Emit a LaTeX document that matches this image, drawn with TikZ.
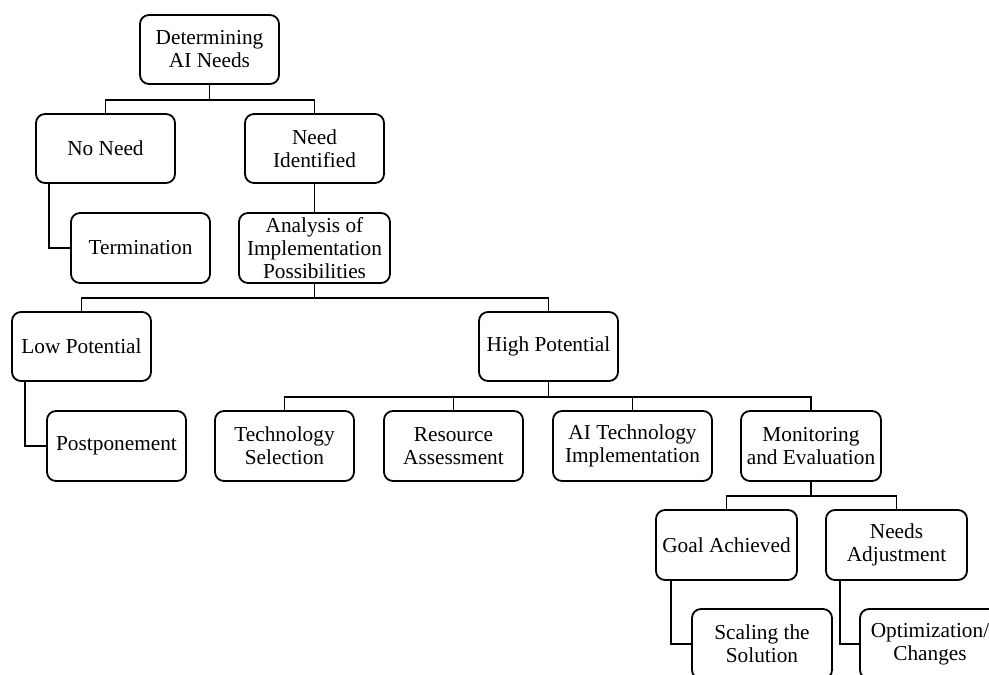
\documentclass[tikz,border=0pt]{standalone}
\usepackage{fontspec}
\setmainfont{Liberation Serif}
\begin{document}
\begin{tikzpicture}[x=1pt,y=-1pt,
  box/.style={draw, line width=1.8pt, rounded corners=9pt, align=center,
    minimum width=139pt, minimum height=69pt, inner sep=1pt,
    font=\fontsize{21.3}{23}\selectfont},
  link/.style={line width=1.6pt}]
\clip (0,0) rectangle (989,675);
\fill[white] (0,0) rectangle (989,675);
% nodes
\node[box] (root) at (209.5,49.5) {Determining\\AI Needs};
\node[box] (noneed) at (105.5,148.5) {No Need};
\node[box] (needid) at (314.5,148.5) {Need\\Identified};
\node[box, minimum height=70pt] (term) at (140.5,248) {Termination};
\node[box, minimum width=151pt, minimum height=70pt] (analysis) at (314.5,248) {Analysis of\\Implementation\\Possibilities};
\node[box] (lowpot) at (81.5,346.5) {Low Potential};
\node[box] (highpot) at (548.5,346.5) {High Potential};
\node[box, minimum height=70pt] (postp) at (116.5,446) {Postponement};
\node[box, minimum height=70pt] (techsel) at (284.5,446) {Technology\\Selection};
\node[box, minimum height=70pt] (resass) at (453.5,446) {Resource\\Assessment};
\node[box, minimum width=159pt, minimum height=70pt] (aiimpl) at (632.5,446) {AI Technology\\Implementation};
\node[box, minimum width=140pt, minimum height=70pt] (monit) at (811,446) {Monitoring\\and Evaluation};
\node[box, minimum width=141pt, minimum height=70pt] (goal) at (726.5,545) {Goal Achieved};
\node[box, minimum width=141pt, minimum height=70pt] (needsadj) at (896.5,545) {Needs\\Adjustment};
\node[box, minimum width=140pt, minimum height=70pt] (scaling) at (762,644) {Scaling the\\Solution};
\node[box, minimum width=140pt, minimum height=70pt] (optim) at (930,644) {Optimization/\\Changes};
% connectors
\draw[link] (root.south) -- ++(0,15) -| (noneed.north);
\draw[link] (root.south) -- ++(0,15) -| (needid.north);
\draw[link] ([xshift=14pt]noneed.south west) |- (term.west);
\draw[link] (needid.south) -- (analysis.north);
\draw[link] (analysis.south) -- ++(0,14) -| (lowpot.north);
\draw[link] (analysis.south) -- ++(0,14) -| (highpot.north);
\draw[link] ([xshift=14pt]lowpot.south west) |- (postp.west);
\draw[link] (highpot.south) -- ++(0,15) -| (techsel.north);
\draw[link] (highpot.south) -- ++(0,15) -| (resass.north);
\draw[link] (highpot.south) -- ++(0,15) -| (aiimpl.north);
\draw[link] (highpot.south) -- ++(0,15) -| (monit.north);
\draw[link] (monit.south) -- ++(0,14) -| (goal.north);
\draw[link] (monit.south) -- ++(0,14) -| (needsadj.north);
\draw[link] ([xshift=16pt]goal.south west) |- (scaling.west);
\draw[link] ([xshift=15pt]needsadj.south west) |- (optim.west);
\end{tikzpicture}
\end{document}
